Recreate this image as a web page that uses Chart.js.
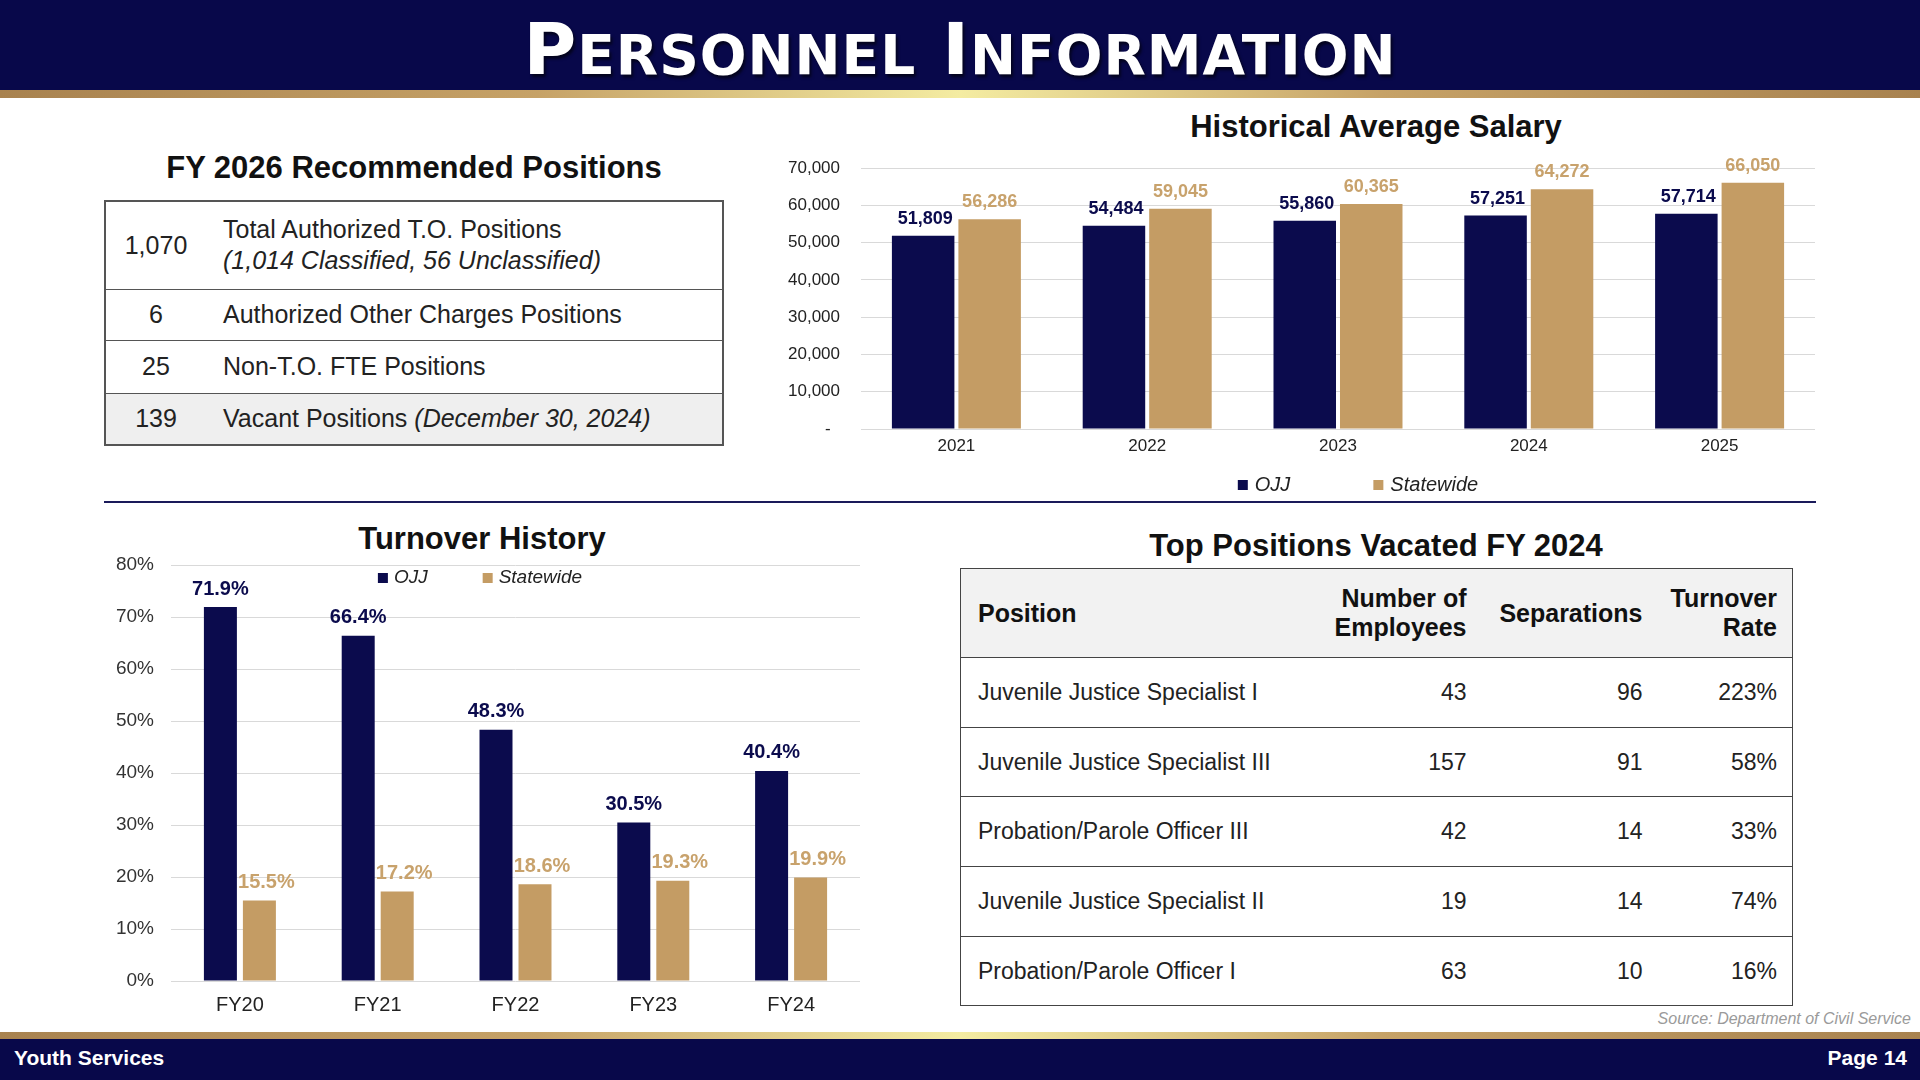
<!DOCTYPE html>
<html>
<head>
<meta charset="utf-8">
<script src="https://cdn.jsdelivr.net/npm/chart.js@4.4.1/dist/chart.umd.min.js"></script>
<style>
  body { margin: 0; width: 1920px; height: 1080px; position: relative; overflow: hidden; background: #fff;
         font-family: "Liberation Sans", Arial, sans-serif; color: #222; }
  .abs { position: absolute; }
  #header { left: 0; top: 0; width: 1920px; height: 90px; background: #08084a; }
  .gold { left: 0; width: 1920px; height: 8px;
          background: linear-gradient(90deg, #a8824f 0%, #c6a267 28%, #f4eca2 50%, #c6a267 72%, #a8824f 100%); }
  #mainTitle { left: 0; top: 4px; width: 1920px; height: 90px; line-height: 90px; text-align: center; color: #fff;
               font-family: "DejaVu Sans", sans-serif; font-weight: bold; font-size: 72px; letter-spacing: 1px;
               text-shadow: 2px 3px 3px rgba(0,0,0,0.6); }
  #mainTitle .sc { font-size: 55px; }
  #footer { left: 0; top: 1039px; width: 1920px; height: 41px; background: #08084a; color: #fff; font-weight: bold; font-size: 21px; }
  .secTitle { width: 800px; height: 40px; line-height: 40px; text-align: center; font-weight: bold; font-size: 31px; color: #111; }
  #posTable { left: 104px; top: 200px; width: 620px; border-collapse: collapse; border: 2px solid #555; font-size: 25px; color: #222; }
  #posTable td { border-top: 1.5px solid #555; padding: 0; }
  #posTable td.num { width: 100px; text-align: center; }
  #posTable td.txt { padding-left: 17px; line-height: 31px; }
  #vacTable { left: 960px; top: 568px; width: 832px; border-collapse: collapse; border: 1.5px solid #444; font-size: 23px; color: #222; table-layout: fixed; }
  #vacTable th { background: #f2f2f2; font-size: 25px; height: 88px; padding: 0; line-height: 29px; font-weight: bold; color: #111; border-bottom: 1.5px solid #444; }
  #vacTable td { height: 68.7px; padding: 0; border-bottom: 1.5px solid #444; }
  #vacTable .c1 { text-align: left; padding-left: 17px; }
  #vacTable .c2, #vacTable .c3 { text-align: right; padding-right: 10px; }
  #vacTable .c4 { text-align: right; padding-right: 15px; }
  #divider { left: 104px; top: 501px; width: 1712px; height: 2px; background: #1a1a5a; }
  #source { right: 9px; top: 1010px; font-size: 16px; font-style: italic; color: #9a9a9a; }
</style>
</head>
<body>
<div id="header" class="abs"></div>
<div id="mainTitle" class="abs">P<span class="sc">ERSONNEL</span> I<span class="sc">NFORMATION</span></div>
<div class="abs gold" style="top:90px"></div>

<div class="abs secTitle" style="left:14px;top:148px">FY 2026 Recommended Positions</div>
<table id="posTable" class="abs"></table>

<div class="abs secTitle" style="left:976px;top:107px">Historical Average Salary</div>
<div class="abs" style="left:770px;top:150px;width:1060px;height:357px"><canvas id="salaryChart"></canvas></div>

<div id="divider" class="abs"></div>

<div class="abs secTitle" style="left:82px;top:519px">Turnover History</div>
<div class="abs" style="left:90px;top:550px;width:790px;height:480px"><canvas id="turnoverChart"></canvas></div>

<div class="abs secTitle" style="left:976px;top:526px">Top Positions Vacated FY 2024</div>
<table id="vacTable" class="abs"></table>
<div id="source" class="abs">Source: Department of Civil Service</div>

<div class="abs gold" style="top:1032px"></div>
<div id="footer" class="abs">
  <span class="abs" style="left:14px;top:7px">Youth Services</span>
  <span class="abs" style="right:13px;top:7px">Page 14</span>
</div>

<script>
// salary chart
var salaryYears = ['2021', '2022', '2023', '2024', '2025'];
var salaryOJJ = [51809, 54484, 55860, 57251, 57714];
var salaryStatewide = [56286, 59045, 60365, 64272, 66050];

// turnover chart
var turnoverYears = ['FY20', 'FY21', 'FY22', 'FY23', 'FY24'];
var turnoverOJJ = [71.9, 66.4, 48.3, 30.5, 40.4];
var turnoverStatewide = [15.5, 17.2, 18.6, 19.3, 19.9];

// positions table
var posCounts = ['1,070', '6', '25', '139'];
var posLabels = ['Total Authorized T.O. Positions', 'Authorized Other Charges Positions', 'Non-T.O. FTE Positions', 'Vacant Positions'];
var posNotes = ['(1,014 Classified, 56 Unclassified)', '', '', '(December 30, 2024)'];

// vacated table
var vacHeaders = ['Position', 'Number of<br>Employees', 'Separations', 'Turnover<br>Rate'];
var vacPositions = ['Juvenile Justice Specialist I', 'Juvenile Justice Specialist III', 'Probation/Parole Officer III',
                    'Juvenile Justice Specialist II', 'Probation/Parole Officer I'];
var vacEmployees = [43, 157, 42, 19, 63];
var vacSeparations = [96, 91, 14, 14, 10];
var vacRates = ['223%', '58%', '33%', '74%', '16%'];

var NAVY = '#0b0b4d';
var GOLD = '#c49c64';
var GOLD_TEXT = '#c8a26c';

// tables
var rowHeights = [88, 51, 53, 52];
var html = '';
for (var i = 0; i < posCounts.length; i++) {
  var note = '';
  if (posNotes[i]) note = (i === 0 ? '<br>' : ' ') + '<i>' + posNotes[i] + '</i>';
  var style = 'height:' + rowHeights[i] + 'px' + (i === posCounts.length - 1 ? ';background:#efefef' : '');
  html += '<tr style="' + style + '"><td class="num">' + posCounts[i] + '</td><td class="txt">' + posLabels[i] + note + '</td></tr>';
}
document.getElementById('posTable').innerHTML = html;

html = '<colgroup><col style="width:330px"><col style="width:186px"><col style="width:176px"><col style="width:140px"></colgroup><tr>';
vacHeaders.forEach(function(h, k) { html += '<th class="c' + (k + 1) + '">' + h + '</th>'; });
html += '</tr>';
for (var j = 0; j < vacPositions.length; j++) {
  html += '<tr><td class="c1">' + vacPositions[j] + '</td><td class="c2">' + vacEmployees[j] + '</td><td class="c3">' +
          vacSeparations[j] + '</td><td class="c4">' + vacRates[j] + '</td></tr>';
}
document.getElementById('vacTable').innerHTML = html;

// value labels over the bars
var barValueLabels = {
  id: 'barValueLabels',
  afterDatasetsDraw: function(chart, args, opts) {
    var ctx = chart.ctx;
    ctx.save();
    ctx.font = opts.font;
    ctx.textAlign = 'center';
    ctx.textBaseline = 'bottom';
    chart.data.datasets.forEach(function(ds, i) {
      var meta = chart.getDatasetMeta(i);
      ctx.fillStyle = i === 0 ? NAVY : GOLD_TEXT;
      var shift = i === 0 ? opts.shift0 : opts.shift1;
      meta.data.forEach(function(bar, k) {
        var v = ds.data[k];
        var txt = opts.mode === 'pct' ? v.toFixed(1) + '%' : v.toLocaleString('en-US');
        ctx.fillText(txt, bar.x + shift, bar.y - opts.offset);
      });
    });
    ctx.restore();
  }
};

// legend drawn at a fixed spot
var slideLegend = {
  id: 'slideLegend',
  afterDraw: function(chart, args, opts) {
    var ctx = chart.ctx;
    ctx.save();
    ctx.font = opts.font;
    ctx.textBaseline = 'middle';
    var items = chart.data.datasets.map(function(ds) {
      return { text: ds.label, color: ds.backgroundColor, w: ctx.measureText(ds.label).width };
    });
    var total = 0;
    items.forEach(function(it) { total += opts.box + opts.gapText + it.w; });
    total += opts.gapItem * (items.length - 1);
    var x = opts.cx - total / 2;
    items.forEach(function(it) {
      ctx.fillStyle = it.color;
      ctx.fillRect(x, opts.y - opts.box / 2, opts.box, opts.box);
      x += opts.box + opts.gapText;
      ctx.fillStyle = '#222';
      ctx.fillText(it.text, x, opts.y);
      x += it.w + opts.gapItem;
    });
    ctx.restore();
  }
};

// fixed y axis width, no extra top/bottom padding from the tick labels
function fixYAxis(width) {
  return function(s) {
    s.width = width;
    s.paddingTop = 0;
    s.paddingBottom = 0;
  };
}

Chart.defaults.font.family = '"Liberation Sans", Arial, sans-serif';
Chart.defaults.color = '#333';

new Chart(document.getElementById('salaryChart'), {
  type: 'bar',
  data: {
    labels: salaryYears,
    datasets: [
      { label: 'OJJ', data: salaryOJJ, backgroundColor: NAVY },
      { label: 'Statewide', data: salaryStatewide, backgroundColor: GOLD }
    ]
  },
  options: {
    responsive: true,
    maintainAspectRatio: false,
    animation: false,
    categoryPercentage: 0.697,
    barPercentage: 0.94,
    layout: { padding: { top: 18, right: 15, bottom: 44, left: 0 } },
    scales: {
      x: {
        grid: { display: false, drawTicks: false },
        border: { display: false },
        ticks: { font: { size: 17 }, padding: 7, color: '#222' },
        afterFit: function(s) { s.height = 34; }
      },
      y: {
        min: 0, max: 70000,
        ticks: {
          stepSize: 10000, padding: 21, font: { size: 17 }, color: '#222',
          callback: function(v) { return v === 0 ? '-  ' : v.toLocaleString('en-US'); }
        },
        grid: { color: '#d9d9d9', drawTicks: false },
        border: { display: false },
        afterFit: fixYAxis(91)
      }
    },
    plugins: {
      legend: { display: false },
      tooltip: { enabled: false },
      barValueLabels: { font: 'bold 18px "Liberation Sans", Arial, sans-serif', offset: 8, mode: 'num', shift0: 2, shift1: 0 },
      slideLegend: { font: 'italic 20px "Liberation Sans", Arial, sans-serif', cx: 588, y: 335, box: 10, gapText: 7, gapItem: 83 }
    }
  },
  plugins: [barValueLabels, slideLegend]
});

new Chart(document.getElementById('turnoverChart'), {
  type: 'bar',
  data: {
    labels: turnoverYears,
    datasets: [
      { label: 'OJJ', data: turnoverOJJ, backgroundColor: NAVY },
      { label: 'Statewide', data: turnoverStatewide, backgroundColor: GOLD }
    ]
  },
  options: {
    responsive: true,
    maintainAspectRatio: false,
    animation: false,
    categoryPercentage: 0.566,
    barPercentage: 0.846,
    layout: { padding: { top: 15, right: 20, bottom: 0, left: 0 } },
    scales: {
      x: {
        grid: { display: false, drawTicks: false },
        border: { display: false },
        ticks: { font: { size: 20 }, padding: 12, color: '#222' },
        afterFit: function(s) { s.height = 49; }
      },
      y: {
        min: 0, max: 80,
        ticks: {
          stepSize: 10, padding: 17, font: { size: 19 }, color: '#333',
          callback: function(v) { return v + '%'; }
        },
        grid: { color: '#d9d9d9', drawTicks: false },
        border: { display: false },
        afterFit: fixYAxis(81)
      }
    },
    plugins: {
      legend: { display: false },
      tooltip: { enabled: false },
      barValueLabels: { font: 'bold 20px "Liberation Sans", Arial, sans-serif', offset: 8, mode: 'pct', shift0: 0, shift1: 7 },
      slideLegend: { font: 'italic 19px "Liberation Sans", Arial, sans-serif', cx: 390, y: 28, box: 10, gapText: 6, gapItem: 55 }
    }
  },
  plugins: [barValueLabels, slideLegend]
});
</script>
</body>
</html>
